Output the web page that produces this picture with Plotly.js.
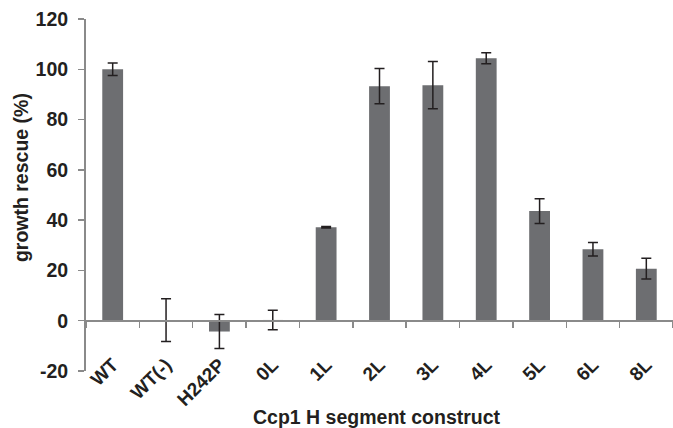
<!DOCTYPE html>
<html>
<head>
<meta charset="utf-8">
<script src="https://cdn.plot.ly/plotly-3.0.1.min.js"></script>
<style>html,body{margin:0;padding:0;background:#fff;}#chart{width:673px;height:428px;}</style>
</head>
<body>
<div id="chart"></div>
<script>
const categories = ["WT", "WT(-)", "H242P", "0L", "1L", "2L", "3L", "4L", "5L", "6L", "8L"];
const rescue = [100, 0.2, -4.3, 0.3, 37.2, 93.3, 93.7, 104.4, 43.6, 28.4, 20.7];
const errors = [2.5, 8.5, 6.8, 3.9, 0.3, 7.0, 9.4, 2.2, 4.9, 2.7, 4.1];
const yTicks = [-20, 0, 20, 40, 60, 80, 100, 120];
const xTitle = "Ccp1 H segment construct";
const yTitle = "growth rescue (%)";

const font = "Liberation Sans, Arial, sans-serif";
const axisGray = "#8a8a8a";
const textColor = "#231f20";

const traces = [
  {
    type: "bar",
    x: categories,
    y: rescue,
    width: 0.39,
    marker: {color: "#6d6e71", line: {width: 0}},
    error_y: {type: "data", array: errors, visible: true, color: textColor, thickness: 1.5, width: 5},
    xaxis: "x",
    yaxis: "y",
    hoverinfo: "x+y"
  },
  {
    type: "scatter",
    mode: "markers",
    x: categories,
    y: categories.map(() => null),
    xaxis: "x2",
    yaxis: "y",
    showlegend: false,
    hoverinfo: "skip"
  }
];

const layout = {
  width: 673,
  height: 428,
  margin: {l: 86, r: 0, t: 19, b: 57},
  paper_bgcolor: "#ffffff",
  plot_bgcolor: "#ffffff",
  showlegend: false,
  font: {family: font, color: textColor},
  xaxis: {
    type: "category",
    range: [-0.5, 10.5],
    anchor: "free",
    position: 22 / 352,
    showline: false,
    showgrid: false,
    zeroline: false,
    ticks: "",
    tickangle: -45,
    tickfont: {family: font, size: 19, color: textColor, weight: "bold"},
    automargin: false
  },
  xaxis2: {
    type: "category",
    range: [-0.5, 10.5],
    overlaying: "x",
    anchor: "free",
    position: 20 / 140,
    side: "bottom",
    showline: true,
    linecolor: axisGray,
    linewidth: 2,
    ticks: "outside",
    tickson: "boundaries",
    ticklen: 6,
    tickwidth: 1.5,
    tickcolor: axisGray,
    showticklabels: false,
    showgrid: false,
    zeroline: false
  },
  yaxis: {
    range: [-20, 120],
    tickvals: yTicks,
    ticktext: yTicks.map(String),
    showline: true,
    linecolor: axisGray,
    linewidth: 2,
    ticks: "outside",
    ticklen: 6,
    tickwidth: 1.5,
    tickcolor: axisGray,
    ticklabelstandoff: 6,
    showgrid: false,
    zeroline: false,
    tickfont: {family: font, size: 19.5, color: textColor, weight: "bold"},
    automargin: false
  },
  annotations: [
    {
      text: "<b>" + xTitle + "</b>",
      xref: "paper", yref: "paper",
      x: 0.495, y: -0.1307,
      xanchor: "center", yanchor: "middle",
      showarrow: false,
      font: {family: font, size: 19.5, color: textColor}
    },
    {
      text: "<b>" + yTitle + "</b>",
      xref: "paper", yref: "paper",
      x: -0.1107, y: 0.548,
      xanchor: "center", yanchor: "middle",
      textangle: -90,
      showarrow: false,
      font: {family: font, size: 19.5, color: textColor}
    }
  ]
};

Plotly.newPlot("chart", traces, layout, {displayModeBar: false, staticPlot: true});
</script>
</body>
</html>
